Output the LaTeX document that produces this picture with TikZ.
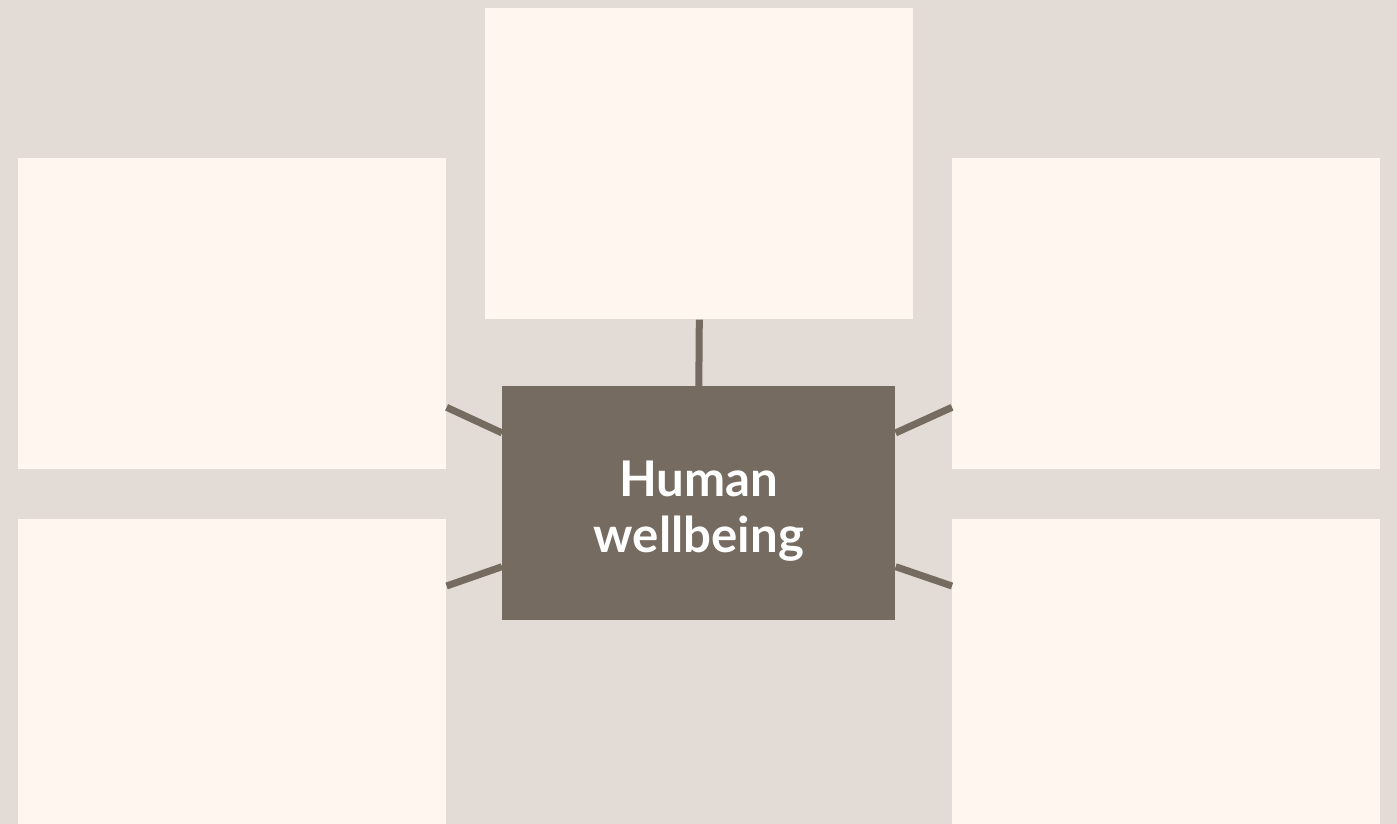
\documentclass[tikz,border=0pt]{standalone}
\usepackage{fontspec}
\setsansfont{Lato}
\usetikzlibrary{calc}
\definecolor{bg}{HTML}{E3DBD5}
\definecolor{cardfill}{HTML}{FFF6EF}
\definecolor{hubfill}{HTML}{756B60}
\tikzset{
  card/.style={fill=cardfill, minimum width=8.56cm, minimum height=6.22cm, inner sep=0pt, anchor=north west},
  hub/.style={fill=hubfill, minimum width=7.86cm, minimum height=4.68cm, inner sep=0pt, anchor=north west},
  hubtext/.style={text=white, inner sep=0pt, align=center, font=\sffamily\bfseries\fontsize{28}{32}\selectfont},
  link/.style={draw=hubfill, line width=0.14cm}
}
\begin{document}
\begin{tikzpicture}[x=0.02cm, y=-0.02cm]
  \useasboundingbox (0,0) rectangle (1397,824);
  \fill[bg] (0,0) rectangle (1397,824);
  \clip (0,0) rectangle (1397,824);

  \path (485,8) node[card] (top) {}
        (18,158) node[card] (lefttop) {}
        (952,158) node[card] (righttop) {}
        (18,519) node[card] (leftbot) {}
        (952,519) node[card] (rightbot) {}
        (502,386) node[hub] (hub) {};
  \node[hubtext] (title) at ($(hub.center)+(0,8)$) {Human\\wellbeing};

  \draw[link] (top.south) -- (hub.north);
  \draw[link] ($(lefttop.south east)!0.2!(lefttop.north east)$) -- ($(hub.north west)!0.2!(hub.south west)$);
  \draw[link] ($(leftbot.north east)!0.215!(leftbot.south east)$) -- ($(hub.south west)!0.23!(hub.north west)$);
  \draw[link] ($(righttop.south west)!0.2!(righttop.north west)$) -- ($(hub.north east)!0.2!(hub.south east)$);
  \draw[link] ($(rightbot.north west)!0.215!(rightbot.south west)$) -- ($(hub.south east)!0.23!(hub.north east)$);
\end{tikzpicture}
\end{document}
